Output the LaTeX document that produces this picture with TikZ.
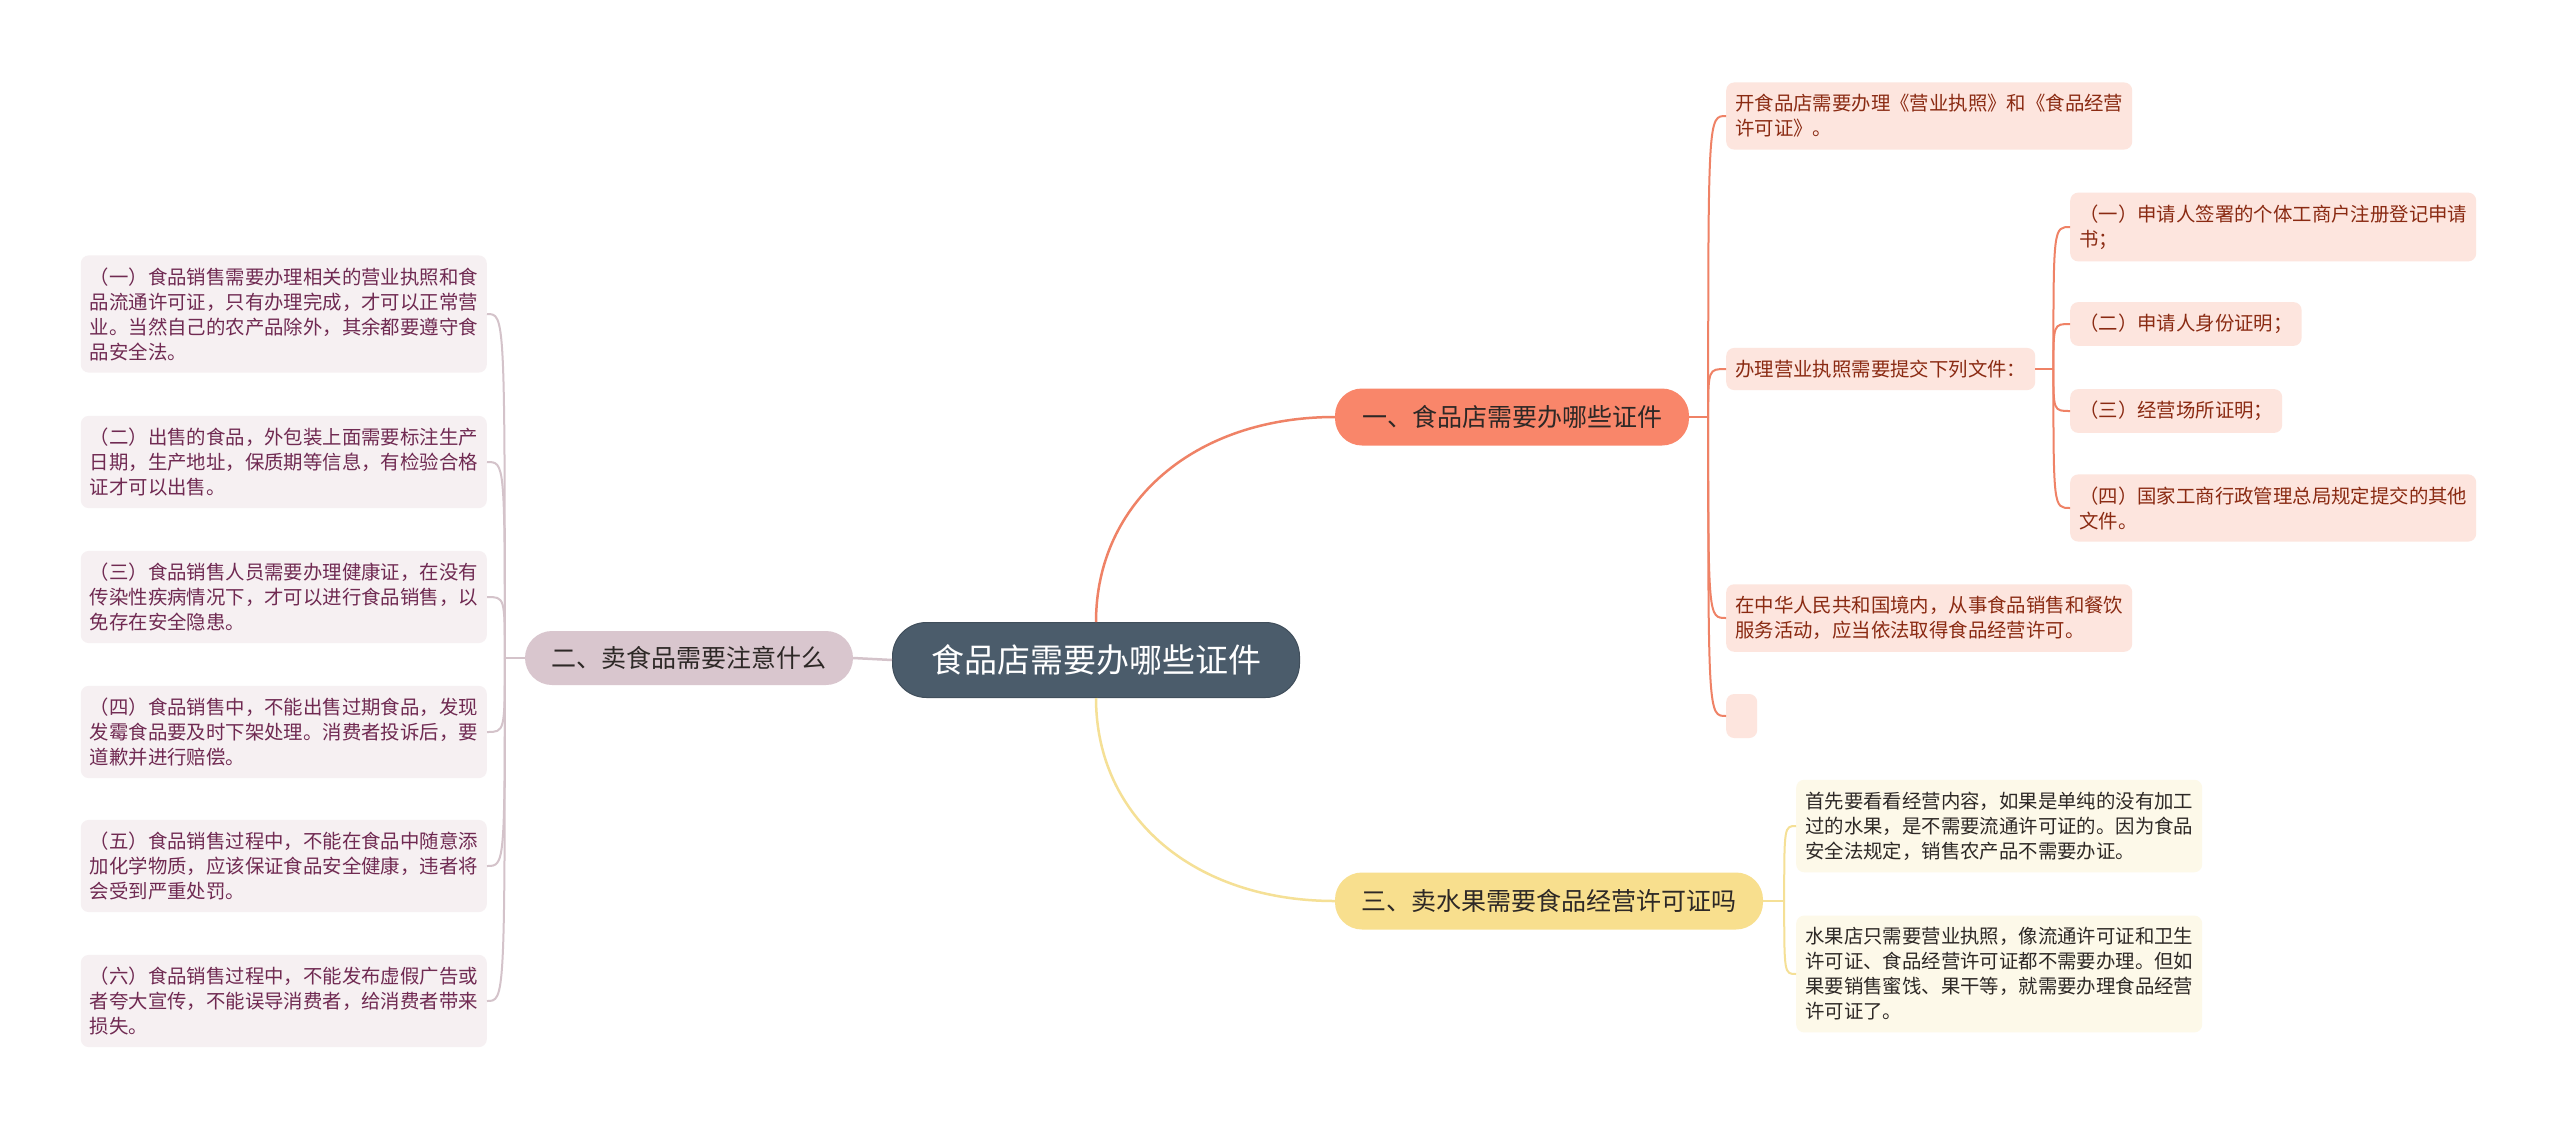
\documentclass[tikz,border=0pt]{standalone}
\usepackage{fontspec}
\setmainfont{Noto Sans CJK SC}
\definecolor{rootFill}{RGB}{75,92,107}
\definecolor{oneFill}{RGB}{249,134,106}
\definecolor{oneLine}{RGB}{239,130,102}
\definecolor{oneLeaf}{RGB}{253,229,222}
\definecolor{oneText}{RGB}{138,42,18}
\definecolor{twoFill}{RGB}{217,198,206}
\definecolor{twoLine}{RGB}{212,195,202}
\definecolor{twoLeaf}{RGB}{246,240,242}
\definecolor{twoText}{RGB}{112,42,82}
\definecolor{threeFill}{RGB}{248,223,142}
\definecolor{threeLine}{RGB}{245,224,150}
\definecolor{threeLeaf}{RGB}{253,249,233}
\definecolor{darkText}{RGB}{45,40,38}

\begin{document}
\begin{tikzpicture}[x=1pt,y=-1pt,line join=round,
  rootnode/.style={fill=rootFill,draw=rootFill!85!black,line width=1pt,text=white,rounded corners=34pt,
    minimum width=407pt,minimum height=75pt,font=\fontsize{33}{38}\selectfont},
  topic/.style={rounded corners=27pt,minimum height=57pt,text=darkText,font=\fontsize{25}{30}\selectfont},
  leaf/.style={rounded corners=8pt,align=left,inner xsep=9pt,inner ysep=12pt,font=\fontsize{19.4}{25}\selectfont},
  oneleaf/.style={leaf,fill=oneLeaf,text=oneText,anchor=west},
  twoleaf/.style={leaf,fill=twoLeaf,text=twoText,anchor=east},
  threeleaf/.style={leaf,fill=threeLeaf,text=darkText,anchor=west},
  onelink/.style={oneLine,line width=2pt},
  twolink/.style={twoLine,line width=2pt},
  threelink/.style={threeLine,line width=2pt}]

% fixed canvas, 2560 x 1133 px
\fill[white] (0,0) rectangle (2560,1133);
\path[use as bounding box] (0,0) rectangle (2560,1133);

% centre and main topics
\node[rootnode] (root) at (1096,660) {食品店需要办哪些证件};
\node[topic,fill=oneFill,minimum width=354pt] (one) at (1512,417) {一、食品店需要办哪些证件};
\node[topic,fill=twoFill,minimum width=328pt,minimum height=54pt] (two) at (689,658) {二、卖食品需要注意什么};
\node[topic,fill=threeFill,minimum width=428pt] (three) at (1549,901) {三、卖水果需要食品经营许可证吗};

% branch one
\node[oneleaf] (c1) at (1726,116) {开食品店需要办理《营业执照》和《食品经营\\许可证》。};
\node[oneleaf] (c2) at (1726,369) {办理营业执照需要提交下列文件：};
\node[oneleaf] (c3) at (1726,618) {在中华人民共和国境内，从事食品销售和餐饮\\服务活动，应当依法取得食品经营许可。};
\node[leaf,fill=oneLeaf,anchor=west,minimum width=31pt,minimum height=44pt,inner sep=0pt] (c4) at (1726,716) {};

\node[oneleaf] (g1) at (2070,227) {（一）申请人签署的个体工商户注册登记申请\\书；};
\node[oneleaf] (g2) at (2070,324) {（二）申请人身份证明；};
\node[oneleaf] (g3) at (2070,411) {（三）经营场所证明；};
\node[oneleaf] (g4) at (2070,508) {（四）国家工商行政管理总局规定提交的其他\\文件。};

% branch two
\node[twoleaf] (l1) at (487,314) {（一）食品销售需要办理相关的营业执照和食\\品流通许可证，只有办理完成，才可以正常营\\业。当然自己的农产品除外，其余都要遵守食\\品安全法。};
\node[twoleaf] (l2) at (487,462) {（二）出售的食品，外包装上面需要标注生产\\日期，生产地址，保质期等信息，有检验合格\\证才可以出售。};
\node[twoleaf] (l3) at (487,597) {（三）食品销售人员需要办理健康证，在没有\\传染性疾病情况下，才可以进行食品销售，以\\免存在安全隐患。};
\node[twoleaf] (l4) at (487,732) {（四）食品销售中，不能出售过期食品，发现\\发霉食品要及时下架处理。消费者投诉后，要\\道歉并进行赔偿。};
\node[twoleaf] (l5) at (487,866) {（五）食品销售过程中，不能在食品中随意添\\加化学物质，应该保证食品安全健康，违者将\\会受到严重处罚。};
\node[twoleaf] (l6) at (487,1001) {（六）食品销售过程中，不能发布虚假广告或\\者夸大宣传，不能误导消费者，给消费者带来\\损失。};

% branch three
\node[threeleaf] (y1) at (1796,826) {首先要看看经营内容，如果是单纯的没有加工\\过的水果，是不需要流通许可证的。因为食品\\安全法规定，销售农产品不需要办证。};
\node[threeleaf] (y2) at (1796,974) {水果店只需要营业执照，像流通许可证和卫生\\许可证、食品经营许可证都不需要办理。但如\\果要销售蜜饯、果干等，就需要办理食品经营\\许可证了。};

% connectors from the centre
\draw[oneLine,line width=2.5pt] (root.north) .. controls +(0,-120) and +(-140,0) .. (one.west);
\draw[threeLine,line width=2.5pt] (root.south) .. controls +(0,120) and +(-140,0) .. (three.west);
\draw[twoLine,line width=2.5pt] (root.west) -- (two.east);

% junctions
\coordinate (j1) at ([xshift=19pt]one.east);
\coordinate (j2) at ([xshift=18pt]c2.east);
\coordinate (j3) at ([xshift=-20pt]two.west);
\coordinate (j4) at ([xshift=21pt]three.east);

\draw[onelink] (one.east) -- (j1);
\foreach \c in {c1,c2,c3,c4}
  \draw[onelink] (j1) .. controls (j1 |- \c.west) .. (\c.west);
\draw[onelink] (c2.east) -- (j2);
\foreach \c in {g1,g2,g3,g4}
  \draw[onelink] (j2) .. controls (j2 |- \c.west) .. (\c.west);
\draw[twolink] (two.west) -- (j3);
\foreach \c in {l1,l2,l3,l4,l5,l6}
  \draw[twolink] (j3) .. controls (j3 |- \c.east) .. (\c.east);
\draw[threelink] (three.east) -- (j4);
\foreach \c in {y1,y2}
  \draw[threelink] (j4) .. controls (j4 |- \c.west) .. (\c.west);

\end{tikzpicture}
\end{document}
